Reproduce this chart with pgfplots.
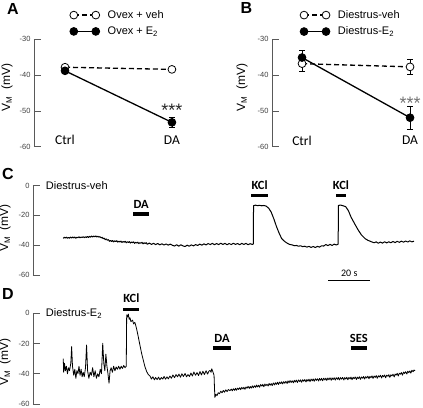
\documentclass[border=0pt]{standalone}
\usepackage{fontspec}
\usepackage{pgfplots}
\pgfplotsset{compat=1.18}
\setmainfont{Liberation Sans}
\newfontfamily\calfont{Carlito}
\definecolor{axc}{gray}{0.35}
\pgfplotsset{
  base/.style={scale only axis, axis x line=none, axis y line=left, xtick=\empty,
    axis line style={-}, y axis line style={-, axc, line width=0.8pt},
    tick align=inside, ytick style={axc, line width=0.8pt}, major tick length=6.5pt,
    yticklabel style={font=\fontsize{7.5}{8}\selectfont, text=black!75, /pgf/number format/assume math mode=true},
    clip=false, ylabel={V\textsubscript{M}\ \ (mV)},
    legend cell align=left,
    legend image code/.code={\draw[mark repeat=1,#1] plot coordinates {(0pt,0pt) (22pt,0pt)};}},
  veh/.style={black, line width=1.3pt, dash pattern=on 5pt off 3pt, mark=*, mark size=3.9pt,
    mark options={solid, fill=white, line width=0.8pt},
    error bars/.cd, y dir=both, y explicit, error bar style={line width=0.8pt, solid},
    error mark options={rotate=90, mark size=3pt, line width=0.8pt}},
  etwo/.style={black, line width=1.3pt, solid, mark=*, mark size=3.9pt,
    mark options={solid, fill=black, line width=0.8pt},
    error bars/.cd, y dir=both, y explicit, error bar style={line width=0.8pt, solid},
    error mark options={rotate=90, mark size=3pt, line width=0.8pt}},
  trace/.style={black, line width=1pt, line join=round},
  drugbar/.style={black, line width=3.4pt}
}
\begin{document}
\begin{tikzpicture}
\useasboundingbox (0pt,0pt) rectangle (423pt,-407pt);
% panel letters
\node[font=\bfseries\fontsize{16}{18}\selectfont] at (13pt,-9pt) {A};
\node[font=\bfseries\fontsize{16}{18}\selectfont] at (246.5pt,-8pt) {B};
\node[font=\bfseries\fontsize{16}{18}\selectfont] at (8pt,-174pt) {C};
\node[font=\bfseries\fontsize{16}{18}\selectfont] at (8pt,-294pt) {D};

% ---------------- A ----------------
\begin{axis}[base, at={(34pt,-146.7pt)}, anchor=south west, width=170pt, height=107.4pt,
  xmin=-0.29, xmax=1.3, ymin=-60, ymax=-30, ytick={-60,-50,-40,-30},
  ylabel style={at={(axis description cs:-0.159,0.555)}, anchor=center, font=\fontsize{12}{14}\selectfont},
  legend style={at={(axis description cs:0.21,1.29)}, anchor=north west, draw=none, fill=none,
    font=\fontsize{11}{13}\selectfont, row sep=3pt, column sep=6pt, inner sep=0pt}]
\addplot[veh] coordinates {(0,-37.8) +- (0,0.6) (1,-38.4) +- (0,0.6)};
\addlegendentry{Ovex + veh}
\addplot[etwo] coordinates {(0,-38.8) +- (0,0.8) (1,-53.2) +- (0,1.3)};
\addlegendentry{Ovex + E\textsubscript{2}}
\node[font=\calfont\fontsize{13.5}{15}\selectfont] at (axis cs:0,-58.1) {Ctrl};
\node[font=\calfont\fontsize{13.5}{15}\selectfont] at (axis cs:1,-58.1) {DA};
\node[font=\fontsize{18}{18}\selectfont, text=black!85] at (axis cs:1,-49.8) {***};
\end{axis}

% ---------------- B ----------------
\begin{axis}[base, at={(272pt,-146.7pt)}, anchor=south west, width=151pt, height=107.4pt,
  xmin=-0.278, xmax=1.12, ymin=-60, ymax=-30, ytick={-60,-50,-40,-30},
  ylabel style={at={(axis description cs:-0.199,0.555)}, anchor=center, font=\fontsize{12}{14}\selectfont},
  legend style={at={(axis description cs:0.185,1.29)}, anchor=north west, draw=none, fill=none,
    font=\fontsize{11}{13}\selectfont, row sep=3pt, column sep=6pt, inner sep=0pt}]
\addplot[veh] coordinates {(0,-36.8) +- (0,2.2) (1,-37.7) +- (0,2.0)};
\addlegendentry{Diestrus-veh}
\addplot[etwo] coordinates {(0,-35.1) +- (0,2.0) (1,-51.9) +- (0,3.2)};
\addlegendentry{Diestrus-E\textsubscript{2}}
\node[font=\calfont\fontsize{13.5}{15}\selectfont] at (axis cs:0,-58.3) {Ctrl};
\node[font=\calfont\fontsize{13.5}{15}\selectfont] at (axis cs:1,-58.3) {DA};
\node[font=\fontsize{18}{18}\selectfont, text=black!55] at (axis cs:1,-48) {***};
\end{axis}

% ---------------- C ----------------
\begin{axis}[base, at={(33pt,-275pt)}, anchor=south west, width=387.3pt, height=89.5pt,
  xmin=-14.4, xmax=170, ymin=-60, ymax=0, ytick={-60,-40,-20,0},
  ylabel style={at={(axis description cs:-0.072,0.525)}, anchor=center, font=\fontsize{12}{14}\selectfont}]
\addplot[trace] coordinates {
(0,-35.4) (0.5,-34.7) (1,-35.2) (1.5,-34.6) (2,-35.4) (2.5,-34.8) (3,-35.3) (3.5,-34.6) (4,-35.2) (4.5,-34.5)
(5,-35.1) (5.5,-34.6) (6,-35.3) (6.5,-34.7) (7,-35.0) (7.5,-34.4) (8,-35.1) (8.5,-34.5) (9,-34.9) (9.5,-34.3)
(10,-35.0) (10.5,-34.4) (11,-34.9) (11.5,-34.2) (12,-34.8) (12.5,-34.1) (13,-34.6) (13.5,-33.9) (14,-34.5)
(14.5,-33.9) (15,-34.4) (15.5,-33.8) (16,-34.5) (16.5,-34.0) (17,-34.6) (17.5,-34.3) (18,-35.1) (18.5,-34.7)
(19,-35.6) (19.5,-35.3) (20,-36.3) (20.5,-35.8) (21,-36.7) (21.5,-36.3) (22,-37.4) (22.5,-36.8) (23,-37.5)
(23.5,-36.9) (24,-37.8) (24.5,-37.1) (25,-37.6) (25.5,-37.0) (26,-38.0) (26.5,-37.3) (27,-37.9) (27.5,-37.3)
(28,-38.2) (28.5,-37.5) (29,-38.0) (29.5,-37.4) (30,-38.4) (30.5,-37.7) (31,-38.2) (31.5,-37.6) (32,-38.6)
(32.5,-37.9) (33,-38.3) (33.5,-37.8) (34,-38.8) (34.5,-38.1) (35,-38.6) (35.5,-38.0) (36,-39.0) (36.5,-38.3)
(37,-38.7) (37.5,-38.1) (38,-39.1) (38.5,-38.4) (39,-38.9) (39.5,-38.3) (40,-39.4) (41,-38.6) (42,-39.5)
(43,-38.8) (44,-39.6) (45,-38.9) (46,-39.8) (47,-39.1) (48,-39.9) (49,-39.2) (50,-40.0) (51,-39.3) (52,-40.1)
(53,-40.6) (54,-39.7) (55,-40.7) (56,-39.7) (57,-40.5) (58,-40.9) (59,-40.0) (60,-40.7) (61,-39.8) (62,-40.5)
(63,-39.6) (64,-40.2) (65,-39.3) (66,-40.0) (67,-39.1) (68,-39.8) (69,-38.9) (70,-39.6) (71,-38.8) (72,-39.7)
(73,-38.9) (74,-39.6) (75,-38.7) (76,-39.5) (77,-38.8) (78,-39.7) (79,-38.9) (80,-39.6) (81,-38.7) (82,-39.5)
(83,-38.9) (84,-39.7) (85,-38.8) (86,-39.5) (87,-38.8) (88,-39.7) (89,-39.0) (90,-39.5)
(90.5,-39.2) (90.6,-13.5) (91.5,-13.2) (92.5,-13.5) (93.5,-13.3) (94.5,-13.6) (95.5,-13.4) (96.6,-13.8)
(97.8,-15.2) (99,-17.8) (100.3,-22.5) (101.6,-27.8) (102.8,-32.0) (104,-35.6) (105.5,-37.6) (107,-39.0)
(108,-39.6) (109,-39.8) (110,-40.4) (111,-40.2) (112,-40.7) (113,-40.4) (114,-41.0) (115,-40.7) (116,-41.3)
(117,-40.8) (118,-41.5) (119,-40.9) (120,-41.6) (121,-40.8) (122,-41.3) (123,-40.4) (124,-40.6) (125,-39.6)
(126,-40.3) (127,-39.5) (128,-40.2) (129,-39.3) (130,-39.9) (130.9,-39.3) (131,-13.4) (132,-13.1) (133,-13.5)
(134.5,-14.2) (135.8,-17.0) (137,-21.1) (138.8,-25.8) (140.5,-30.0) (142,-33.2) (143.7,-35.6) (145,-36.7)
(146.5,-37.6) (148,-38.4) (149,-37.8) (150,-38.7) (151,-37.9) (152,-38.6) (153,-37.7) (154,-38.5) (155,-37.7)
(156,-38.4) (157,-37.5) (158,-38.3) (159,-37.4) (160,-38.1) (161,-37.3) (162,-38.0) (163,-37.2) (164,-37.9)
(165,-37.1) (166,-37.8) (167,-37.3)};
\addplot[drugbar] coordinates {(33.3,-19.2) (41,-19.2)};
\addplot[drugbar] coordinates {(89.4,-6.8) (97.6,-6.8)};
\addplot[drugbar] coordinates {(129.9,-6.8) (134.5,-6.8)};
\addplot[black, line width=1.3pt] coordinates {(126.2,-63.7) (146.2,-63.7)};
\node[font=\calfont\bfseries\fontsize{12.5}{14}\selectfont] at (axis cs:37.1,-13) {DA};
\node[font=\calfont\bfseries\fontsize{12.5}{14}\selectfont] at (axis cs:93.5,-0.1) {KCl};
\node[font=\calfont\bfseries\fontsize{12.5}{14}\selectfont] at (axis cs:132.2,-0.1) {KCl};
\node[font=\calfont\fontsize{10}{12}\selectfont] at (axis cs:136.2,-59.1) {20 s};
\node[font=\fontsize{11}{13}\selectfont, anchor=west] at (axis cs:-9.9,0) {Diestrus-veh};
\end{axis}

% ---------------- D ----------------
\begin{axis}[base, at={(33pt,-404pt)}, anchor=south west, width=387.3pt, height=90.7pt,
  xmin=-14.4, xmax=170, ymin=-60, ymax=0, ytick={-60,-40,-20,0},
  ylabel style={at={(axis description cs:-0.072,0.463)}, anchor=center, font=\fontsize{12}{14}\selectfont}]
\addplot[trace, line width=0.8pt] coordinates {
(0,-30) (0.2,-39) (0.6,-33) (1,-38) (1.5,-35) (2,-40) (2.5,-36) (3,-38) (3.6,-33) (4,-22) (4.4,-35) (5,-41)
(5.5,-37) (6,-43) (6.5,-38) (7,-40) (7.5,-35) (8,-41) (8.5,-37) (9,-42) (9.5,-39) (10,-42) (10.6,-36)
(11.1,-21) (11.6,-38) (12.2,-43) (12.8,-39) (13.4,-41) (14,-36) (14.6,-42) (15.2,-38) (15.8,-43) (16.4,-40)
(17,-42) (17.6,-37) (18.2,-40) (18.8,-19.8) (19.3,-33) (19.8,-38) (20.3,-27) (20.8,-35) (21.3,-40)
(21.8,-46.3) (22.3,-38) (22.8,-36) (23.4,-39) (24,-35) (24.6,-38) (25.2,-35.5) (25.8,-37) (26.4,-35)
(27,-37) (27.6,-35) (28.2,-36.5) (28.8,-34.5) (29.4,-36) (30,-35) (30.2,-1) (30.6,-2.5) (31,-0.5)
(31.4,-4) (31.8,-3) (32.2,-5.5) (32.6,-5) (33,-4.5) (33.5,-7) (34.1,-6) (34.7,-9) (35.2,-12) (35.7,-15.4)
(36.5,-21) (37.3,-26.4) (38.1,-31) (38.9,-35.3) (39.7,-38.5) (40.5,-40.5) (41.3,-41.5) (42,-43.5)
(42.7,-42) (43.4,-44) (44,-42.5) (44.7,-43.8) (45.4,-42.2) (46,-44) (46.7,-42.5) (47.4,-43.5) (48,-41.8)
(48.7,-43.6) (49.4,-42) (50,-43.4) (50.8,-41.5) (51.5,-43) (52.2,-40.8) (53,-42.6) (53.7,-40.5) (54.4,-42)
(55.1,-40.2) (55.8,-42.3) (56.5,-40) (57.2,-41.8) (58,-39.8) (58.7,-42) (59.4,-40.5) (60.1,-41.8)
(60.8,-39.5) (61.5,-41.5) (62.2,-38.8) (63,-41) (63.7,-39.2) (64.4,-41.2) (65.1,-38.5) (65.8,-40.8)
(66.5,-38.3) (67.2,-40.5) (68,-38) (68.7,-40.2) (69.4,-38.2) (69.9,-37.8) (70.4,-39) (70.7,-36.7)
(71.2,-38.5) (71.8,-41) (72,-49) (72.2,-55.6) (72.7,-53.5) (73.2,-54.5) (73.8,-52.5) (74.4,-53.2)
(75,-51.5) (75.6,-52.6) (76.2,-51) (76.8,-52.2) (77.4,-50.6) (78,-51.8) (78.6,-50.4) (79.4,-51.2)
(80,-50.1) (80.5,-51.3) (81,-49.9) (81.6,-51.0) (82,-49.6) (82.5,-50.9) (83,-49.5) (83.5,-50.4) (84,-49.2)
(84.5,-50.5) (85,-49.0) (85.6,-50.1) (86,-48.9) (86.5,-50.3) (87,-48.7) (87.5,-49.6) (88,-48.3) (88.6,-49.7)
(89,-48.4) (89.5,-49.5) (90,-48.0) (90.5,-49.3) (91,-47.9) (91.6,-49.0) (92,-47.5) (92.5,-48.7) (93,-47.6)
(93.5,-48.9) (94,-47.1) (94.6,-48.2) (95,-47.0) (95.5,-48.6) (96,-46.8) (96.5,-47.9) (97,-46.9) (97.6,-48.1)
(98,-46.4) (98.5,-47.6) (99,-46.5) (99.5,-47.8) (100,-46.1) (100.6,-47.4) (101,-45.9) (101.5,-47.0)
(102,-45.6) (102.5,-47.1) (103,-45.5) (103.6,-46.5) (104,-45.3) (104.5,-46.7) (105,-45.2) (105.5,-46.3)
(106,-45.0) (106.6,-46.4) (107,-44.7) (107.5,-46.0) (108,-44.5) (108.5,-45.8) (109,-44.6) (109.6,-46.0)
(110,-44.3) (110.5,-45.5) (111,-44.2) (111.5,-45.8) (112,-44.1) (112.6,-45.2) (113,-44.0) (113.5,-45.6)
(114,-43.9) (114.5,-45.0) (115,-43.8) (115.6,-45.4) (116,-43.8) (116.5,-44.9) (117,-43.6) (117.5,-45.2)
(118,-43.5) (118.6,-44.7) (119,-43.4) (119.5,-45.0) (120,-43.3) (120.5,-44.4) (121,-43.3) (121.6,-44.8)
(122,-43.1) (122.5,-44.3) (123,-43.0) (123.5,-44.6) (124,-42.9) (124.6,-44.1) (125,-42.9) (125.5,-44.4)
(126,-42.8) (126.5,-44.0) (127,-42.7) (127.6,-44.3) (128,-42.7) (128.5,-43.8) (129,-42.6) (129.5,-44.2)
(130,-42.6) (130.6,-43.7) (131,-42.5) (131.5,-44.1) (132,-42.5) (132.5,-43.6) (133,-42.4) (133.6,-44.1)
(134,-42.5) (134.5,-43.5) (135,-42.3) (135.5,-44.0) (136,-42.4) (136.6,-43.4) (137,-42.2) (137.5,-43.9)
(138,-42.3) (138.5,-43.3) (139,-42.1) (139.6,-43.8) (140,-42.2) (140.5,-43.2) (141,-42.0) (141.5,-43.7)
(142,-42.1) (142.6,-43.0) (143,-41.8) (143.5,-43.5) (144,-41.9) (144.5,-42.8) (145,-41.6) (145.6,-43.3)
(146,-41.7) (146.5,-42.6) (147,-41.4) (147.5,-43.1) (148,-41.5) (148.6,-42.4) (149,-41.2) (149.5,-43.0)
(150,-41.3) (150.5,-42.2) (151,-41.0) (151.6,-42.8) (152,-41.1) (152.5,-42.0) (153,-40.8) (153.5,-42.6)
(154,-40.9) (154.6,-41.7) (155,-40.6) (155.5,-42.4) (156,-40.7) (156.5,-41.4) (157,-40.3) (157.6,-42.1)
(158,-40.2) (158.5,-40.9) (159,-39.7) (159.5,-41.5) (160,-39.6) (160.6,-40.3) (161,-39.2) (161.5,-40.9)
(162,-38.9) (162.5,-39.8) (163,-38.6) (163.6,-40.2) (164,-38.3) (164.5,-39.3) (165,-38.1) (165.5,-39.6)
(166,-37.7) (166.6,-38.6) (167,-37.5) (167.5,-38.0)};
\addplot[drugbar] coordinates {(28.6,2.5) (36.2,2.5)};
\addplot[drugbar] coordinates {(71.3,-23) (79.9,-23)};
\addplot[drugbar] coordinates {(136.9,-23) (144.5,-23)};
\node[font=\calfont\bfseries\fontsize{12.5}{14}\selectfont] at (axis cs:32.4,10.1) {KCl};
\node[font=\calfont\bfseries\fontsize{12.5}{14}\selectfont] at (axis cs:75.6,-16.4) {DA};
\node[font=\calfont\bfseries\fontsize{12.5}{14}\selectfont] at (axis cs:140.7,-16.4) {SES};
\node[font=\fontsize{11}{13}\selectfont, anchor=west] at (axis cs:-9.9,0) {Diestrus-E\textsubscript{2}};
\end{axis}
\end{tikzpicture}
\end{document}
